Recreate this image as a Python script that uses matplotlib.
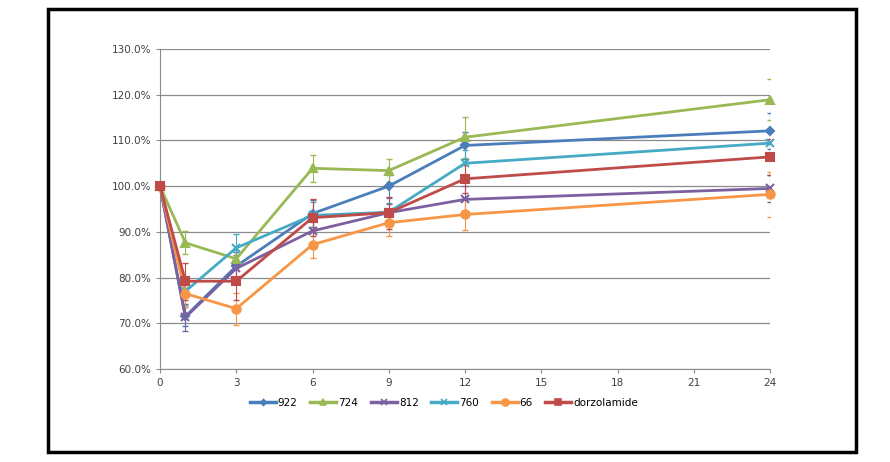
import numpy as np
import matplotlib.pyplot as plt
from matplotlib.patches import Rectangle
from matplotlib.lines import Line2D
from matplotlib.ticker import FuncFormatter

# sampling times and relative values (fraction of baseline)
times = [0, 1, 3, 6, 9, 12, 24]
names = ["922", "724", "812", "760", "66", "dorzolamide"]

v922 = [1.000, 0.715, 0.825, 0.940, 1.000, 1.089, 1.121]
v724 = [1.000, 0.876, 0.841, 1.039, 1.034, 1.107, 1.189]
v812 = [1.000, 0.713, 0.820, 0.902, 0.942, 0.971, 0.995]
v760 = [1.000, 0.770, 0.865, 0.936, 0.943, 1.050, 1.094]
v66 = [1.000, 0.765, 0.732, 0.872, 0.920, 0.938, 0.982]
vdorz = [1.000, 0.792, 0.792, 0.931, 0.942, 1.016, 1.064]

e922 = [0, 0.020, 0.030, 0.030, 0.025, 0.030, 0.040]
e724 = [0, 0.025, 0.020, 0.030, 0.025, 0.045, 0.045]
e812 = [0, 0.030, 0.030, 0.030, 0.020, 0.030, 0.030]
e760 = [0, 0.030, 0.030, 0.030, 0.020, 0.030, 0.030]
e66 = [0, 0.030, 0.035, 0.030, 0.030, 0.035, 0.050]
edorz = [0, 0.040, 0.040, 0.040, 0.035, 0.030, 0.040]

series = [v922, v724, v812, v760, v66, vdorz]
errors = [e922, e724, e812, e760, e66, edorz]
colors = ["#4A7EBB", "#98B954", "#7D60A0", "#46AAC5", "#F79646", "#BE4B48"]
markers = ["D", "^", "x", "x", "o", "s"]
msizes = [4, 6, 6, 6, 6, 6]

fig = plt.figure(figsize=(8.9, 4.62), dpi=100)
ax = fig.add_axes([160 / 890, 1 - 369 / 462, 610 / 890, 320 / 462])

handles = []
for vals, err, c, m, ms, name in zip(series, errors, colors, markers, msizes, names):
    ax.errorbar(times, vals, yerr=err, fmt="none", ecolor=c, elinewidth=0.8,
                capsize=2, zorder=2)
    ax.plot(times, vals, color=c, marker=m, markersize=ms, markeredgewidth=1.5,
            linewidth=2, zorder=3, clip_on=False)
    handles.append(Line2D([], [], color=c, marker=m, markersize=ms - 1,
                          markeredgewidth=1.2, linewidth=2.5, label=name))

ax.set_xlim(0, 24)
ax.set_ylim(0.6, 1.3)
ax.set_xticks(np.arange(0, 25, 3))
ax.set_yticks(np.arange(0.6, 1.31, 0.1))
ax.yaxis.set_major_formatter(FuncFormatter(lambda v, p: f"{v * 100:.1f}%"))
ax.grid(axis="y", color="#8C8C8C", linewidth=0.9)
ax.set_axisbelow(True)
for s in ["top", "right"]:
    ax.spines[s].set_visible(False)
for s in ["left", "bottom"]:
    ax.spines[s].set_color("#8C8C8C")
ax.tick_params(colors="#8C8C8C", labelcolor="#404040", labelsize=7.5, length=3)

fig.legend(handles=handles, loc="center", bbox_to_anchor=(444 / 890, 1 - 403 / 462),
           ncol=6, frameon=False, fontsize=7.5, handlelength=2.5,
           handletextpad=0.2, columnspacing=1.2)

fig.patches.append(Rectangle((48 / 890, 10 / 462), 808 / 890, 443 / 462,
                             transform=fig.transFigure, fill=False,
                             edgecolor="black", linewidth=2.5))

fig.savefig("out.png", dpi=100)
